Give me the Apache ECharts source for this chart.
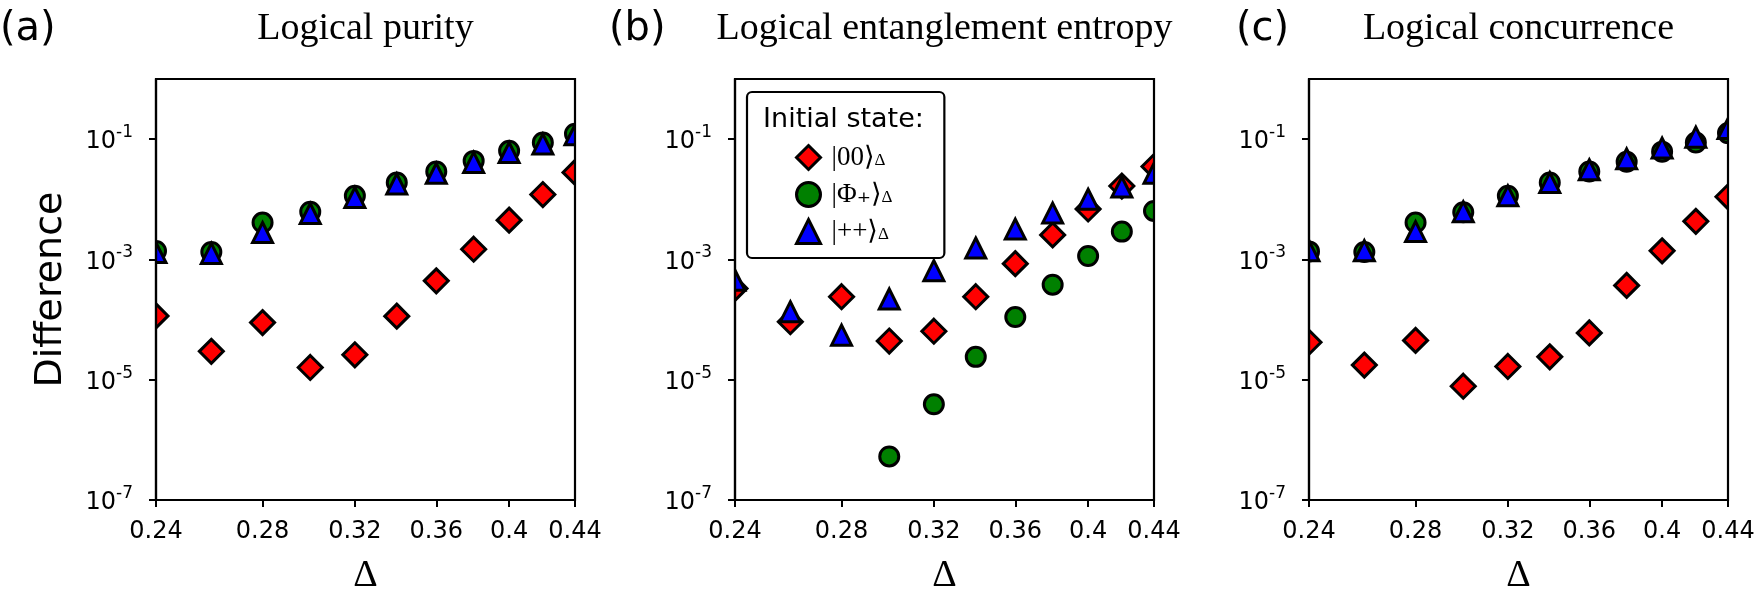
<!DOCTYPE html>
<html>
<head>
<meta charset="utf-8">
<title>Logical purity / entanglement entropy / concurrence</title>
<script src="https://cdn.jsdelivr.net/npm/echarts@6/dist/echarts.min.js"></script>
<style>
    html, body { margin: 0; padding: 0; background: #fff; }
    #chart { width: 1764px; height: 605px; }
</style>
</head>
<body>
<div id="chart"></div>
<script>
// Delta values shared by every panel
var deltas = [0.24, 0.26, 0.28, 0.30, 0.32, 0.34, 0.36, 0.38, 0.40, 0.42, 0.44];
var xTicks = [0.24, 0.28, 0.32, 0.36, 0.4, 0.44];
var yTicks = [1e-7, 1e-5, 1e-3, 1e-1];

var panelLetters = ['(a)', '(b)', '(c)'];
var panelTitles = ['Logical purity', 'Logical entanglement entropy', 'Logical concurrence'];

// (a) logical purity
var purity00 = [1.15e-4, 2.96e-5, 8.9e-5, 1.6e-5, 2.6e-5, 1.14e-4, 4.4e-4, 1.48e-3, 4.5e-3, 1.2e-2, 2.8e-2];
var purityPhi = [1.38e-3, 1.33e-3, 4.1e-3, 6.2e-3, 1.14e-2, 1.9e-2, 2.9e-2, 4.35e-2, 6.4e-2, 8.8e-2, 0.123];
var purityPP = [1.3e-3, 1.26e-3, 2.8e-3, 5.8e-3, 1.07e-2, 1.8e-2, 2.7e-2, 4.1e-2, 6.0e-2, 8.3e-2, 0.118];

// (b) logical entanglement entropy (no Phi+ points below 0.30)
var entropy00 = [3.3e-4, 9.2e-5, 2.4e-4, 4.4e-5, 6.4e-5, 2.4e-4, 8.5e-4, 2.56e-3, 6.9e-3, 1.66e-2, 3.5e-2];
var entropyPhi = [null, null, null, 5.3e-7, 3.9e-6, 2.4e-5, 1.1e-4, 3.8e-4, 1.14e-3, 2.9e-3, 6.4e-3];
var entropyPP = [4.5e-4, 1.35e-4, 5.5e-5, 2.2e-4, 6.5e-4, 1.55e-3, 3.2e-3, 5.9e-3, 1.0e-2, 1.6e-2, 2.7e-2];

// (c) logical concurrence
var conc00 = [4.2e-5, 1.75e-5, 4.5e-5, 7.8e-6, 1.66e-5, 2.4e-5, 6.0e-5, 3.7e-4, 1.39e-3, 4.3e-3, 1.1e-2];
var concPhi = [1.36e-3, 1.33e-3, 4.1e-3, 6.1e-3, 1.14e-2, 1.9e-2, 2.9e-2, 4.2e-2, 6.2e-2, 8.8e-2, 0.126];
var concPP = [1.4e-3, 1.4e-3, 2.9e-3, 6.2e-3, 1.14e-2, 1.9e-2, 3.1e-2, 4.7e-2, 7.1e-2, 0.108, 0.15];

var panels = [
    [purity00, purityPhi, purityPP],
    [entropy00, entropyPhi, entropyPP],
    [conc00, concPhi, concPP]
];

var gridLefts = [156, 735, 1309];
var gridTop = 79, gridW = 419, gridH = 421;
var letterLefts = [0, 609, 1236];
var serif = '"Liberation Serif", "DejaVu Serif", serif';
var sans = '"DejaVu Sans", sans-serif';

var states = [
    { name: 'ket00', symbol: 'diamond', size: 24, color: '#ff0000' },
    { name: 'ketPhi', symbol: 'circle', size: 19, color: '#008000' },
    { name: 'ketPP', symbol: 'triangle', size: 20, color: '#0000ff' }
];

function pairs(values) {
    var out = [];
    for (var i = 0; i < deltas.length; i++) {
        if (values[i] != null) {
            out.push([deltas[i], values[i]]);
        }
    }
    return out;
}

function xLabel(v) {
    return String(+(+v).toFixed(2));
}

function yLabel(v) {
    var e = Math.round(Math.log(v) / Math.LN10);
    return '{b|10}{s|' + e + '}';
}

function initChart() {
    var chart = echarts.init(document.getElementById('chart'), null, { renderer: 'canvas' });
    var grids = [], xAxes = [], yAxes = [], series = [], titles = [], masks = [];

    for (var p = 0; p < 3; p++) {
        grids.push({
            left: gridLefts[p], top: gridTop, width: gridW, height: gridH,
            show: true, borderColor: '#000', borderWidth: 2.2, z: 5,
            backgroundColor: 'transparent', containLabel: false
        });
        xAxes.push({
            type: 'log', logBase: 10, gridIndex: p, min: 0.24, max: 0.44, z: 5,
            name: '\u0394', nameLocation: 'middle', nameGap: 57,
            nameTextStyle: { fontFamily: serif, fontSize: 38, color: '#000' },
            axisLine: { show: true, lineStyle: { color: '#000', width: 2.2 } },
            axisTick: { show: true, length: 7, customValues: xTicks, lineStyle: { color: '#000', width: 2 } },
            axisLabel: {
                customValues: xTicks, formatter: xLabel, margin: 20,
                fontFamily: sans, fontSize: 24, color: '#000'
            },
            minorTick: { show: false },
            splitLine: { show: false }
        });
        yAxes.push({
            type: 'log', logBase: 10, gridIndex: p, min: 1e-7, max: 1, z: 5,
            name: p === 0 ? 'Difference' : '', nameLocation: 'middle', nameGap: 86,
            nameRotate: 90,
            nameTextStyle: { fontFamily: sans, fontSize: 38, color: '#000' },
            axisLine: { show: true, lineStyle: { color: '#000', width: 2.2 } },
            axisTick: { show: true, length: 7, customValues: yTicks, lineStyle: { color: '#000', width: 2 } },
            axisLabel: {
                customValues: yTicks, formatter: yLabel, margin: 23, color: '#000',
                rich: {
                    b: { fontFamily: sans, fontSize: 24, lineHeight: 30, color: '#000', verticalAlign: 'bottom' },
                    s: { fontFamily: sans, fontSize: 17, lineHeight: 30, color: '#000', verticalAlign: 'top' }
                }
            },
            minorTick: { show: false },
            splitLine: { show: false }
        });
        for (var k = 0; k < 3; k++) {
            series.push({
                name: states[k].name,
                type: 'scatter',
                xAxisIndex: p,
                yAxisIndex: p,
                z: 2,
                symbol: states[k].symbol,
                symbolSize: states[k].size,
                data: pairs(panels[p][k]),
                itemStyle: { color: states[k].color, borderColor: '#000', borderWidth: 3, opacity: 1 },
                emphasis: { disabled: true }
            });
        }
        // white strips just outside the frame so edge markers look clipped
        masks.push({
            type: 'rect', z: 3, silent: true,
            shape: { x: gridLefts[p] - 18, y: gridTop - 18, width: 17, height: gridH + 36 },
            style: { fill: '#fff' }
        });
        masks.push({
            type: 'rect', z: 3, silent: true,
            shape: { x: gridLefts[p] + gridW + 1, y: gridTop - 18, width: 17, height: gridH + 36 },
            style: { fill: '#fff' }
        });
        titles.push({
            text: panelLetters[p], left: letterLefts[p], top: 10, padding: 0,
            textStyle: { fontFamily: sans, fontSize: 40, fontWeight: 'normal', color: '#000' }
        });
        titles.push({
            text: panelTitles[p], left: gridLefts[p] + gridW / 2, top: 10, padding: 0, textAlign: 'center',
            textStyle: { fontFamily: serif, fontSize: 38, fontWeight: 'normal', color: '#000' }
        });
    }

    titles.push({
        text: 'Initial state:', left: 843.5, top: 106, padding: 0, textAlign: 'center', z: 20,
        textStyle: { fontFamily: sans, fontSize: 27, fontWeight: 'normal', color: '#000' }
    });

    var legendText = {
        ket00: '{f||00\u27E9}{s|\u0394}',
        ketPhi: '{f||\u03A6\u208A\u27E9}{s|\u0394}',
        ketPP: '{f||++\u27E9}{s|\u0394}'
    };

    var option = {
        animation: false,
        backgroundColor: '#fff',
        textStyle: { fontFamily: sans },
        title: titles,
        graphic: masks,
        grid: grids,
        xAxis: xAxes,
        yAxis: yAxes,
        legend: {
            left: 747, top: 92,
            orient: 'vertical',
            data: ['ket00', 'ketPhi', 'ketPP'],
            selectedMode: false,
            backgroundColor: '#fff',
            borderColor: '#000', borderWidth: 2.2, borderRadius: 5,
            padding: [52, 52, 13, 48],
            itemWidth: 24, itemHeight: 24, itemGap: 10,
            itemStyle: { borderColor: '#000', borderWidth: 3 },
            formatter: function (name) {
                return legendText[name];
            },
            textStyle: {
                color: '#000',
                rich: {
                    f: { fontFamily: serif, fontSize: 27, lineHeight: 24, color: '#000', padding: [0, 0, 0, 6] },
                    s: { fontFamily: serif, fontSize: 17, lineHeight: 15, color: '#000', verticalAlign: 'bottom' }
                }
            },
            z: 10
        },
        series: series
    };
    chart.setOption(option);
    return chart;
}

var chart = initChart();
</script>
</body>
</html>
